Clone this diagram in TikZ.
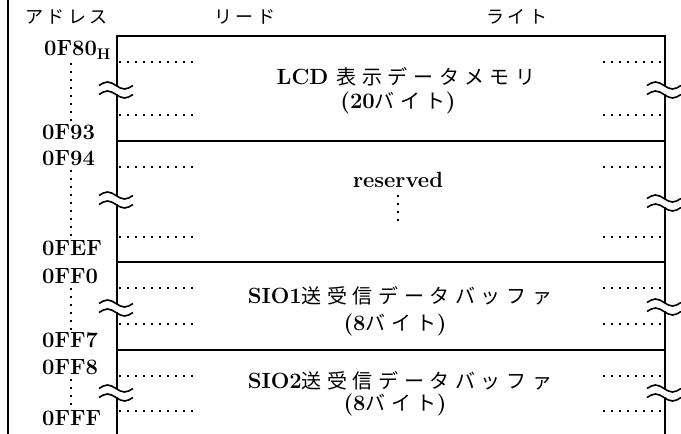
\documentclass[tikz,border=0pt]{standalone}
\usepackage{fontspec}
\newfontfamily\jpfont[LetterSpace=20]{Noto Sans CJK JP}
\newfontfamily\jpwide[LetterSpace=28]{Noto Sans CJK JP}
\newcommand\jp[1]{{\mdseries\fontsize{20}{24}\selectfont\jpwide #1}}
\usetikzlibrary{
    positioning,      % relative placement
    calc              % coordinate calculation
}

\tikzset{
    brk/.pic={
        \fill[white] (-3,-4) rectangle (3,4);
        \foreach \dy in {-4.5,4.5}
            \draw[line width=1.6pt] (-17,\dy) sin (-8.5,\dy-3.5) cos (0,\dy) sin (8.5,\dy+3.5) cos (17,\dy);
    }
}

\begin{document}
\begin{tikzpicture}[
        x=1pt, y=-1pt,
        wall/.style={
            line width=1.6pt
        },
        dotline/.style={
            line width=2pt,
            dash pattern=on 2pt off 6pt
        },
        addr/.style={
            anchor=west,
            inner sep=0pt,
            font=\fontsize{22}{24}\selectfont\bfseries
        },
        head/.style={
            inner sep=0pt,
            font=\fontsize{18}{20}\selectfont\jpfont
        },
        area/.style={
            inner sep=0pt,
            font=\fontsize{22}{24}\selectfont\bfseries
        }
    ]
    \useasboundingbox (0,0) rectangle (681,434);

    % frame of the memory map
    \draw[wall] (8,0) -- (8,434);
    \draw[wall] (117,434) -- (117,36) -- (665,36) -- (665,434);
    \foreach \y in {141,262,350}
        \draw[wall] (117,\y) -- (665,\y);

    % column headings
    \node[head, anchor=west] (hAddr) at (25,17) {アドレス};
    \node[head] (hRead) at (245,17) {リード};
    \node[head] (hWrite) at (517,17) {ライト};

    % addresses
    \node[addr] (a80) at (44,50) {0F80\textsubscript{H}};
    \node[addr] (a93) at (42,132) {0F93};
    \node[addr] (a94) at (42,158) {0F94};
    \node[addr] (aEF) at (42,248) {0FEF};
    \node[addr] (aF0) at (42,276) {0FF0};
    \node[addr] (aF7) at (42,340) {0FF7};
    \node[addr] (aF8) at (42,367) {0FF8};
    \node[addr] (aFF) at (42,418) {0FFF};

    \coordinate (dotx) at (71,0);
    \draw[dotline] ([yshift=-4]a80.south -| dotx) -- ([yshift=2]a93.north -| dotx);
    \draw[dotline] ([yshift=-4]a94.south -| dotx) -- ([yshift=2]aEF.north -| dotx);
    \draw[dotline] ([yshift=-4]aF0.south -| dotx) -- ([yshift=2]aF7.north -| dotx);
    \draw[dotline] ([yshift=-4]aF8.south -| dotx) -- ([yshift=2]aFF.north -| dotx);

    % area names
    \node[area] (lcdA) at (406,77) {LCD \jp{表示データメモリ}};
    \node[area] (lcdB) at (398,103) {(20\jp{バイト})};
    \node[area] (rsv) at (398,180) {reserved};
    \coordinate (rsvEnd) at (398,222);
    \draw[dotline] ([yshift=-7]rsv.south) -- (rsvEnd);
    \node[area] (sio1A) at (400,296) {SIO1\jp{送受信データバッファ}};
    \node[area] (sio1B) at (395,325) {(8\jp{バイト})};
    \node[area] (sio2A) at (400,381) {SIO2\jp{送受信データバッファ}};
    \node[area] (sio2B) at (395,405) {(8\jp{バイト})};

    % dotted guide lines at both sides
    \foreach \y in {62,115,167,237,288,324,376,411} {
        \draw[dotline] (119,\y) -- (195,\y);
        \draw[dotline] (603,\y) -- (665,\y);
    }

    % break marks
    \foreach \yl/\yr in {90/90,200/203,308/307,393/393} {
        \pic at (116,\yl) {brk};
        \pic at (664,\yr) {brk};
    }
\end{tikzpicture}
\end{document}
